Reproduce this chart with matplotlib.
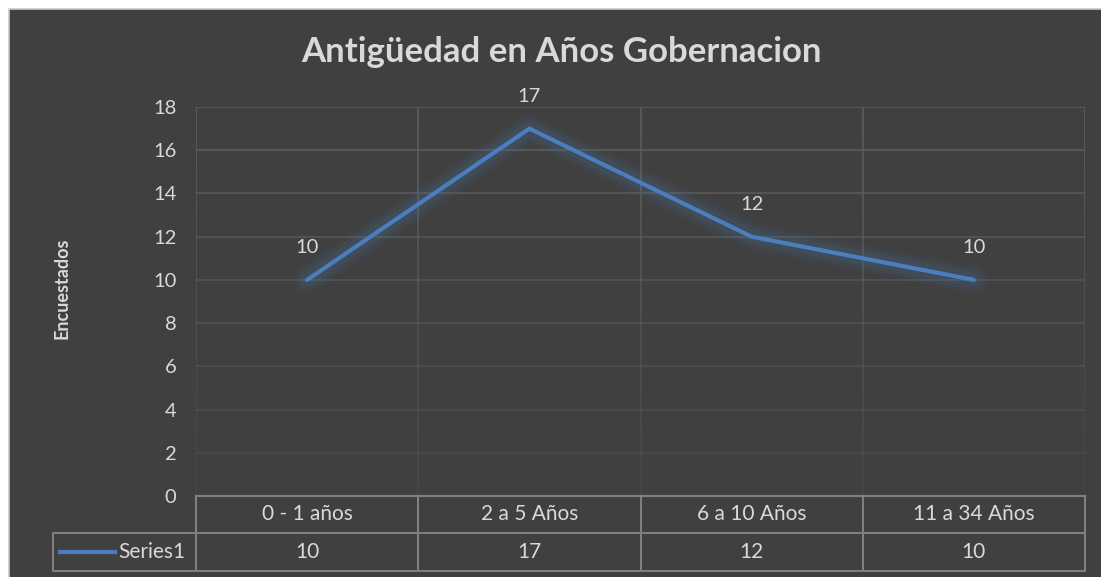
import matplotlib.pyplot as plt
import matplotlib.patches as mpatches
import numpy as np

# =============================================
# DATA
# =============================================
categories = ["0 - 1 años", "2 a 5 Años", "6 a 10 Años", "11 a 34 Años"]
values = [10, 17, 12, 10]
series_name = "Series1"
y_ticks = [0, 2, 4, 6, 8, 10, 12, 14, 16, 18]
title = "Antigüedad en Años Gobernacion"
y_label = "Encuestados"

# =============================================
# STYLE
# =============================================
plt.rcParams["font.family"] = ["Lato", "DejaVu Sans"]
BG = "#404040"
TXT = "#D9D9D9"
LINE = "#4A7EBF"
TABLE = "#808080"

W, H = 1101, 577
fig = plt.figure(figsize=(W / 100, H / 100), dpi=100)
fig.patch.set_facecolor("white")

# dark chart area with thin light border
fig.patches.append(mpatches.Rectangle((8.5 / W, -0.01), 1.0, 1 - 8.5 / H + 0.01,
                                      transform=fig.transFigure, facecolor=BG,
                                      edgecolor="#C8C8C8", linewidth=1.2, zorder=-10))

ax = fig.add_axes([196 / W, 1 - 496 / H, (1085 - 196) / W, (496 - 107) / H])
ax.set_facecolor("none")

x = np.arange(len(categories))
ax.set_xlim(-0.5, len(categories) - 0.5)
ax.set_ylim(0, 18)

# gridlines fading towards the bottom
for yv in y_ticks[1:]:
    a = 0.25 + 0.75 * (yv / 18)
    ax.axhline(yv, color="#5E5E5E", alpha=a, linewidth=1.2, zorder=1)
for xv in np.arange(-0.5, len(categories), 1.0):
    ys = np.linspace(0, 18, 31)
    for y0, y1 in zip(ys[:-1], ys[1:]):
        a = 0.2 + 0.8 * (y1 / 18)
        ax.plot([xv, xv], [y0, y1], color="#5E5E5E", alpha=a,
                linewidth=1.2, zorder=1, solid_capstyle="butt")

# glow + line
for lw, al in [(20, 0.05), (15, 0.07), (10, 0.10)]:
    ax.plot(x, values, color=LINE, linewidth=lw, alpha=al,
            solid_capstyle="round", solid_joinstyle="round", zorder=2)
ax.plot(x, values, color=LINE, linewidth=3.0, solid_capstyle="round",
        solid_joinstyle="miter", zorder=3)

for xi, v in zip(x, values):
    ax.annotate(f"{v}", (xi, v), xytext=(0, 23), textcoords="offset points",
                ha="center", va="center", color=TXT, fontsize=14.5)

ax.set_yticks(y_ticks)
ax.set_yticklabels([str(t) for t in y_ticks])
ax.tick_params(axis="y", length=0, pad=14, labelcolor=TXT, labelsize=14.5)
ax.set_xticks([])
for s in ax.spines.values():
    s.set_visible(False)

# =============================================
# DATA TABLE
# =============================================
r1 = -37 / 389
r2 = -75 / 389
x_leg = -0.5 - 143 / 222
kw = dict(color=TABLE, linewidth=1.5, clip_on=False, zorder=4,
          transform=ax.get_xaxis_transform())
ax.plot([-0.5, 3.5], [0, 0], **kw)
ax.plot([x_leg, 3.5], [r1, r1], **kw)
ax.plot([x_leg, 3.5], [r2, r2], **kw)
ax.plot([x_leg, x_leg], [r1, r2], **kw)
for xv in np.arange(-0.5, len(categories), 1.0):
    ax.plot([xv, xv], [0, r2], **kw)

for xi, cat, v in zip(x, categories, values):
    ax.text(xi, r1 / 2, cat, ha="center", va="center", color=TXT, fontsize=15,
            transform=ax.get_xaxis_transform())
    ax.text(xi, (r1 + r2) / 2, str(v), ha="center", va="center", color=TXT,
            fontsize=15, transform=ax.get_xaxis_transform())

# legend key inside the table
ax.plot([-0.5 - 136 / 222, -0.5 - 81 / 222], [(r1 + r2) / 2] * 2, color=LINE,
        linewidth=3.0, clip_on=False, transform=ax.get_xaxis_transform())
ax.text(-0.5 - 78 / 222, (r1 + r2) / 2, series_name, ha="left", va="center",
        color=TXT, fontsize=15, transform=ax.get_xaxis_transform())

# =============================================
# TITLES
# =============================================
fig.text(561 / W, 1 - 52 / H, title, ha="center", va="center",
         color=TXT, fontsize=25, fontweight="bold")
fig.text(62 / W, 1 - 288 / H, y_label, ha="center", va="center",
         rotation=90, color=TXT, fontsize=13, fontweight="bold")

fig.savefig("out.png", dpi=100, facecolor="white")
